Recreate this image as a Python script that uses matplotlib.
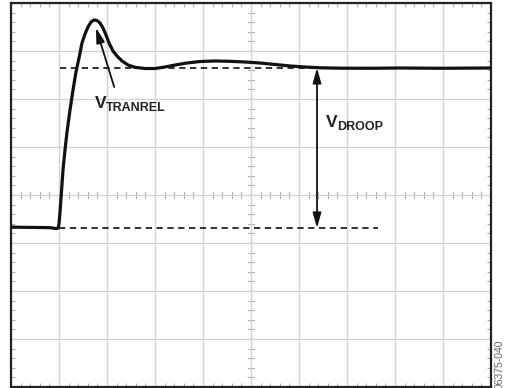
#! /usr/bin/env python3
"""
Load transient response: output voltage droop and release overshoot
"""
import matplotlib
matplotlib.use("Agg")
import matplotlib.pyplot as plt
import numpy as np

# scope screen: 10 x 8 divisions
N_XDIV = 10
N_YDIV = 8

# output voltage trace (divisions)
trace_x = [0.000, 0.810, 0.940, 0.980, 1.000, 1.021, 1.042, 1.063, 1.083,
           1.125, 1.167, 1.229, 1.292, 1.354, 1.417, 1.479, 1.542, 1.604,
           1.667, 1.729, 1.792, 1.854, 1.917, 1.979, 2.042, 2.125, 2.208,
           2.313, 2.438, 2.583, 2.792, 3.000, 3.208, 3.417, 3.667, 3.938,
           4.250, 4.563, 4.875, 5.188, 5.500, 5.813, 6.125, 6.438, 6.854,
           7.479, 8.104, 8.938, 10.000]
trace_y = [3.330, 3.320, 3.300, 3.310, 3.396, 3.646, 3.938, 4.229, 4.521,
           4.938, 5.313, 5.771, 6.188, 6.563, 6.854, 7.167, 7.354, 7.500,
           7.604, 7.646, 7.635, 7.583, 7.479, 7.333, 7.167, 7.000, 6.896,
           6.792, 6.708, 6.660, 6.635, 6.635, 6.667, 6.708, 6.750, 6.781,
           6.792, 6.785, 6.771, 6.750, 6.719, 6.688, 6.667, 6.650, 6.642,
           6.640, 6.646, 6.640, 6.646]

v_low = 3.31      # level before the load step
v_high = 6.65     # settled level after the step
v_peak = 7.646    # release overshoot peak
t_peak = 1.729

fig = plt.figure(figsize=(5.05, 3.88), dpi=100)
ax = fig.add_axes([11 / 505, 1 / 388, 480 / 505, 384 / 388])

ax.set_xlim(0, N_XDIV)
ax.set_ylim(0, N_YDIV)

# graticule
grid_col = "#d4d4d4"
ax.set_xticks(np.arange(0, N_XDIV + 1))
ax.set_yticks(np.arange(0, N_YDIV + 1))
ax.set_xticks(np.arange(0, N_XDIV + 0.01, 0.2), minor=True)
ax.set_yticks(np.arange(0, N_YDIV + 0.01, 0.2), minor=True)
ax.grid(True, which="major", color=grid_col, lw=1.0)
ax.tick_params(which="major", length=0, labelbottom=False, labelleft=False)
ax.tick_params(which="minor", direction="in", length=3, width=0.8,
               color="#b0b0b0", top=True, right=True)
for s in ax.spines.values():
    s.set_color("#222222")
    s.set_linewidth(1.6)

# centre crosshair with minor marks
cx, cy = N_XDIV / 2, N_YDIV / 2
for xm in np.arange(0, N_XDIV + 0.01, 0.2):
    ax.plot([xm, xm], [cy - 0.06, cy + 0.06], color="#b0b0b0", lw=0.8, zorder=1)
for ym in np.arange(0, N_YDIV + 0.01, 0.2):
    ax.plot([cx - 0.06, cx + 0.06], [ym, ym], color="#b0b0b0", lw=0.8, zorder=1)

# reference levels
ax.plot([1.02, 6.50], [v_high, v_high], color="#222222", lw=1.3,
        ls=(0, (3.5, 2.5)), zorder=2)
ax.plot([1.00, 7.65], [v_low, v_low], color="#222222", lw=1.3,
        ls=(0, (3.5, 2.5)), zorder=2)

# the trace
ax.plot(trace_x, trace_y, color="#111111", lw=2.3, solid_joinstyle="round",
        solid_capstyle="round", zorder=3)

# annotations
font = "Liberation Sans"
ax.annotate("", xy=(t_peak + 0.04, v_peak - 0.16), xytext=(2.15, 6.25),
            arrowprops=dict(arrowstyle="-|>,head_length=0.9,head_width=0.25",
                            color="#111111", lw=1.3, shrinkA=0, shrinkB=0),
            zorder=4)
ax.text(1.75, 5.82, "V", fontsize=12.5, fontweight="bold", family=font,
        color="#222222", ha="left", va="baseline")
ax.text(1.98, 5.76, "TRANREL", fontsize=9, fontweight="bold", family=font,
        color="#222222", ha="left", va="baseline")

ax.annotate("", xy=(6.375, v_high), xytext=(6.375, v_low),
            arrowprops=dict(arrowstyle="<|-|>,head_length=0.9,head_width=0.25",
                            color="#111111", lw=1.3, shrinkA=0, shrinkB=0),
            zorder=4)
ax.text(6.56, 5.42, "V", fontsize=12.5, fontweight="bold", family=font,
        color="#222222", ha="left", va="baseline")
ax.text(6.80, 5.36, "DROOP", fontsize=9, fontweight="bold", family=font,
        color="#222222", ha="left", va="baseline")

fig.text(500 / 505, -1 / 388, "06375-040", rotation=90, fontsize=7.5,
         family=font, color="#666666", ha="center", va="bottom")

fig.savefig("out.png", dpi=100)
